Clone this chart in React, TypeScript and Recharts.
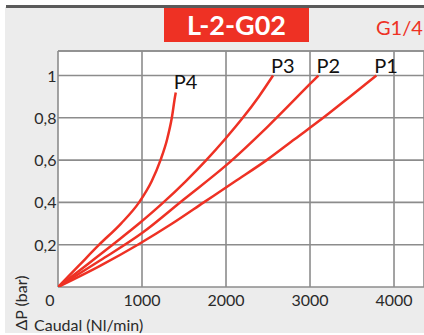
import { LineChart, Line, XAxis, YAxis, CartesianGrid, ReferenceLine, LabelList } from "recharts";

const red = "#ee3124";
const gridColor = "#8c8c8c";
const font = "Lato, 'Open Sans', sans-serif";

// caudal (Nl/min) and pressure drop (bar)
const p1Flow = [0, 500, 950, 1360, 1735, 2110, 2484, 2820, 3157, 3475, 3790];
const p1Drop = [0, 0.1, 0.2, 0.3, 0.4, 0.5, 0.6, 0.7, 0.8, 0.9, 1.0];

const p2Flow = [0, 500, 1000, 1500, 2000, 2500, 3000, 3100];
const p2Drop = [0, 0.125, 0.255, 0.415, 0.575, 0.76, 0.96, 1.0];

const p3Flow = [0, 330, 650, 965, 1255, 1520, 1765, 1990, 2200, 2390, 2560];
const p3Drop = [0, 0.1, 0.2, 0.3, 0.4, 0.5, 0.6, 0.7, 0.8, 0.9, 1.0];

const p4Flow = [0, 245, 490, 750, 965, 1115, 1220, 1300, 1355, 1393, 1402];
const p4Drop = [0, 0.1, 0.2, 0.3, 0.4, 0.5, 0.6, 0.7, 0.8, 0.9, 0.92];

const seriesNames = ["P1", "P2", "P3", "P4"];
const flows = [p1Flow, p2Flow, p3Flow, p4Flow];
const drops = [p1Drop, p2Drop, p3Drop, p4Drop];

const xTicks = [0, 1000, 2000, 3000, 4000];
const yTicks = [0, 0.2, 0.4, 0.6, 0.8, 1];
const xMax = 4357;
const yMax = 1.116;

const series = seriesNames.map((name, i) => ({
  name,
  data: flows[i].map((x, j) => ({ x, y: drops[i][j] })),
}));

const XTick = ({ x, y, payload }: any) => (
  <text
    x={payload.value === 0 ? x - 8 : x}
    y={y}
    dy={19}
    textAnchor="middle"
    fontSize={16}
    fontFamily={font}
    fill="#2a2a2a"
  >
    {payload.value}
  </text>
);

const YTick = ({ x, y, payload }: any) =>
  payload.value === 0 ? (
    <g />
  ) : (
    <text x={x - 1.5} y={y} dy={6} textAnchor="end" fontSize={16} fontFamily={font} fill="#2a2a2a">
      {String(payload.value).replace(".", ",")}
    </text>
  );

const endLabel = (name: string, last: number) => (props: any) =>
  props.index === last ? (
    <text x={props.x - 2} y={props.y - 3} fontSize={20} fontFamily={font} fill="#111">
      {name}
    </text>
  ) : null;

export default function App() {
  return (
    <div
      style={{
        position: "absolute",
        left: 0,
        top: 0,
        width: 424,
        height: 335,
        overflow: "hidden",
        background: "#fff",
        fontFamily: font,
      }}
    >
      <div style={{ position: "absolute", left: 5, top: 7, width: 419, height: 326, background: "#ececec" }} />
      <div style={{ position: "absolute", left: 6, top: 5, width: 418, height: 2.5, background: "#5a5a5a" }} />
      <div
        style={{
          position: "absolute",
          left: 164,
          top: 8,
          width: 145,
          height: 34,
          lineHeight: "34px",
          background: red,
          color: "#fff",
          fontWeight: 700,
          fontSize: 27,
          textAlign: "center",
        }}
      >
        L-2-G02
      </div>
      <div style={{ position: "absolute", left: 376, top: 15, fontSize: 20, color: red, whiteSpace: "nowrap" }}>
        G1/4
      </div>

      <div style={{ position: "absolute", left: 0, top: 0 }}>
        <LineChart width={424} height={335} margin={{ top: 51, right: 0, bottom: 0, left: 0 }}>
          <CartesianGrid stroke={gridColor} strokeWidth={1.6} fill="#fff" />
          <XAxis
            type="number"
            dataKey="x"
            domain={[0, xMax]}
            ticks={xTicks}
            height={48}
            axisLine={false}
            tickLine={false}
            tickSize={0}
            tickMargin={0}
            tick={<XTick />}
            allowDataOverflow
          />
          <YAxis
            type="number"
            dataKey="y"
            domain={[0, yMax]}
            ticks={yTicks}
            width={58}
            axisLine={false}
            tickLine={false}
            tickSize={0}
            tickMargin={0}
            tick={<YTick />}
            allowDataOverflow
          />
          <ReferenceLine y={yMax} stroke={gridColor} strokeWidth={1.6} />
          {series.map((s) => (
            <Line
              key={s.name}
              data={s.data}
              dataKey="y"
              type="monotone"
              stroke={red}
              strokeWidth={2.5}
              dot={false}
              isAnimationActive={false}
            >
              <LabelList dataKey="y" content={endLabel(s.name, s.data.length - 1)} />
            </Line>
          ))}
        </LineChart>
      </div>

      <div
        style={{
          position: "absolute",
          left: 20,
          top: 303,
          transform: "translate(-50%, -50%) rotate(-90deg)",
          fontSize: 16,
          color: "#2a2a2a",
          whiteSpace: "nowrap",
        }}
      >
        ΔP (bar)
      </div>
      <div style={{ position: "absolute", left: 34, top: 315, fontSize: 16, color: "#2a2a2a", whiteSpace: "nowrap" }}>
        Caudal (Nl/min)
      </div>
    </div>
  );
}
